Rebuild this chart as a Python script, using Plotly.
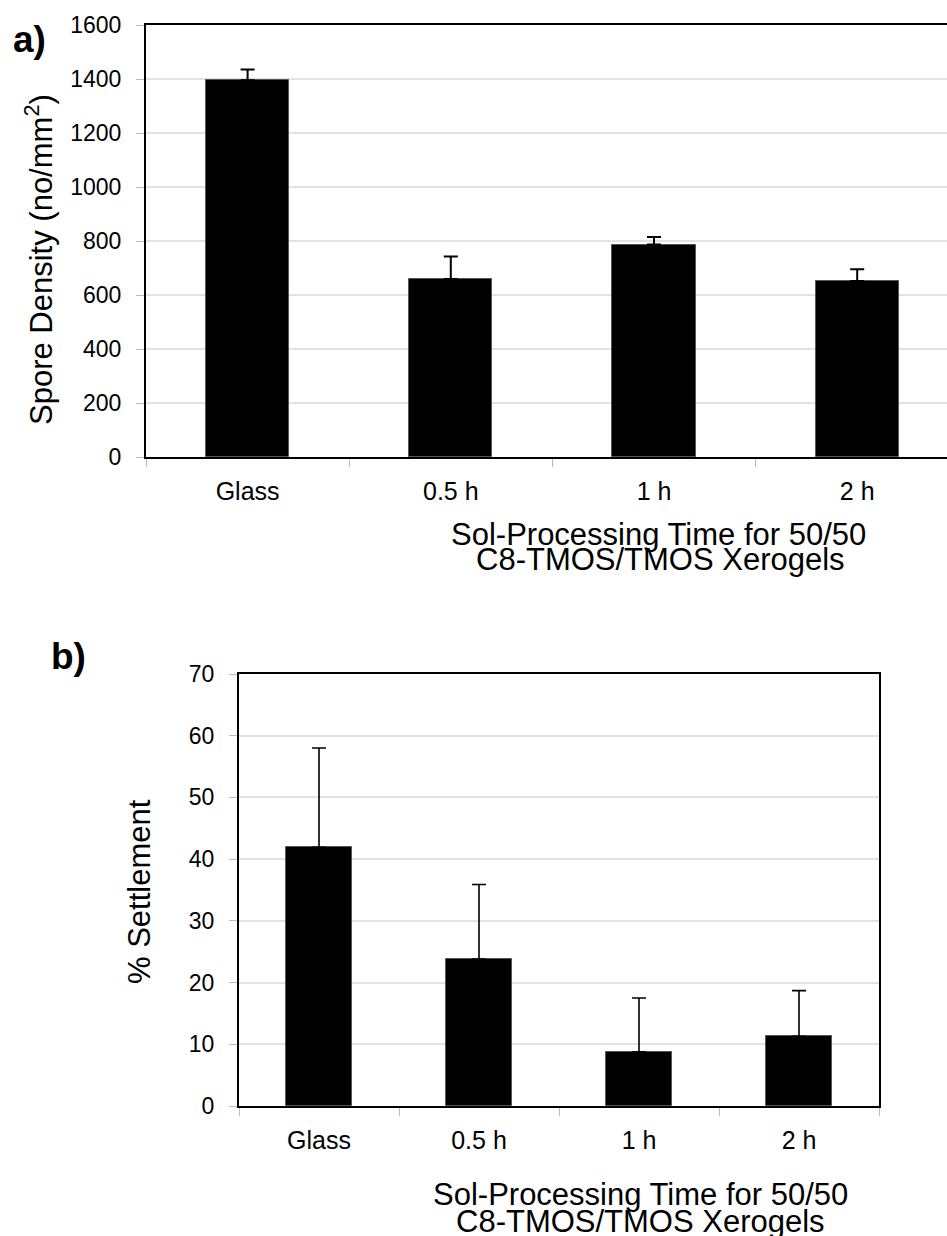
import plotly.graph_objects as go

categories = ["Glass", "0.5 h", "1 h", "2 h"]
density = [1395, 659, 787, 652]
density_err = [40, 84, 28, 43]
settlement = [41.9, 23.8, 8.8, 11.3]
settlement_err = [16.1, 12.1, 8.7, 7.4]

title_x_line1 = "Sol-Processing Time for 50/50"
title_x_line2 = "C8-TMOS/TMOS Xerogels"
title_y_a = "Spore Density (no/mm<sup>2</sup>)"
title_y_b = "% Settlement"

W, H = 947, 1236
FONT = "Liberation Sans, Arial, sans-serif"


def px(x):
    return x / W


def py(y):
    return 1 - y / H


fig = go.Figure()
fig.add_trace(go.Bar(
    x=categories, y=density, width=0.41,
    marker=dict(color="black", line=dict(color="#555555", width=1)),
    error_y=dict(type="data", array=density_err, arrayminus=[0] * 4, symmetric=False,
                 color="black", thickness=2, width=7),
    xaxis="x", yaxis="y", showlegend=False,
))
fig.add_trace(go.Bar(
    x=categories, y=settlement, width=0.41,
    marker=dict(color="black", line=dict(color="#555555", width=1)),
    error_y=dict(type="data", array=settlement_err, arrayminus=[0] * 4, symmetric=False,
                 color="black", thickness=1.6, width=7),
    xaxis="x2", yaxis="y2", showlegend=False,
))

xcommon = dict(type="category", showline=True, linecolor="black", linewidth=2, mirror=True,
               ticks="outside", tickson="boundaries", ticklen=8, tickcolor="#bbbbbb", tickwidth=1,
               showgrid=False, zeroline=False, automargin=False,
               tickfont=dict(family=FONT, size=25, color="black"), ticklabelstandoff=11)
ycommon = dict(showline=True, linecolor="black", linewidth=2, ticks="outside", ticklen=8,
               tickcolor="#bbbbbb", tickwidth=1, showgrid=True, gridcolor="#e2e2e2", gridwidth=1.5,
               zeroline=False, automargin=False,
               tickfont=dict(family=FONT, size=23, color="black"), ticklabelstandoff=10)

a_left, a_top, a_bot = 146, 25, 457
cat_w = 203.2
a_range_hi = -0.5 + (W - a_left) / cat_w

fig.update_layout(
    width=W, height=H, autosize=False,
    margin=dict(l=0, r=0, t=0, b=0, pad=0, autoexpand=False),
    paper_bgcolor="white", plot_bgcolor="white",
    bargap=0,
    xaxis=dict(xcommon, domain=[px(a_left), 1.0], range=[-0.5, a_range_hi], anchor="y"),
    yaxis=dict(ycommon, domain=[py(a_bot), py(a_top)], range=[0, 1600], dtick=200, mirror=False,
               anchor="x"),
    xaxis2=dict(xcommon, domain=[px(239), px(879)], range=[-0.5, 3.5], anchor="y2"),
    yaxis2=dict(ycommon, domain=[py(1106), py(674)], range=[0, 70], dtick=10, mirror=True,
                anchor="x2"),
)

ann_font = dict(family=FONT, size=31, color="black")
anns = [
    dict(text=title_x_line1, x=px(658), y=py(534), font=ann_font),
    dict(text=title_x_line2, x=px(660), y=py(560), font=ann_font),
    dict(text=title_x_line1, x=px(640), y=py(1194), font=ann_font),
    dict(text=title_x_line2, x=px(640), y=py(1221), font=ann_font),
    dict(text=title_y_a, x=px(39), y=py(260), font=ann_font, textangle=-90),
    dict(text=title_y_b, x=px(139), y=py(892), font=ann_font, textangle=-90),
    dict(text="<b>a)</b>", x=px(30), y=py(40), font=dict(family=FONT, size=37, color="black")),
    dict(text="<b>b)</b>", x=px(68), y=py(656), font=dict(family=FONT, size=37, color="black")),
]
for a in anns:
    a.update(xref="paper", yref="paper", showarrow=False, xanchor="center", yanchor="middle")
    fig.add_annotation(**a)

fig.write_html("out.html")
